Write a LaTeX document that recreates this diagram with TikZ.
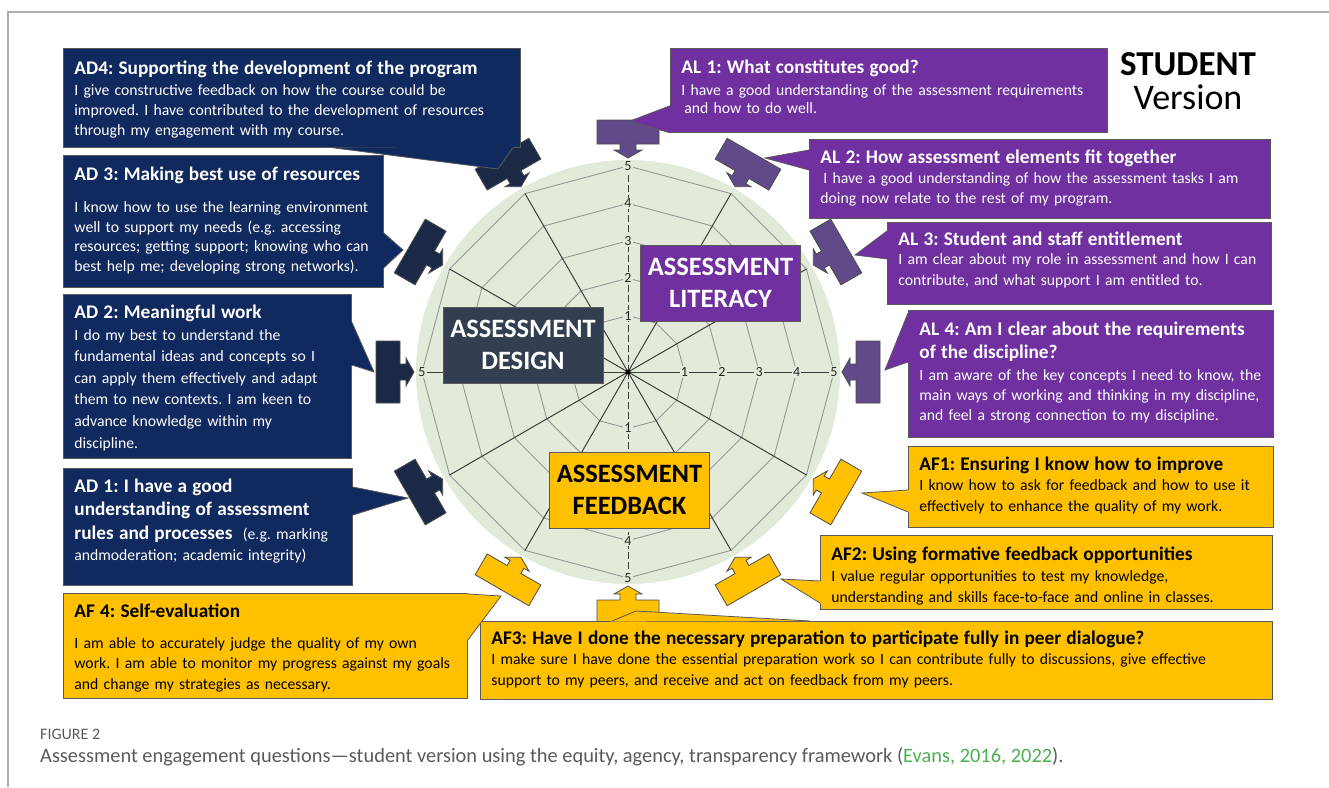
\documentclass[tikz,border=0pt]{standalone}
\usepackage{fontspec}
\setmainfont{Carlito}
\usetikzlibrary{calc}

\definecolor{adfill}{RGB}{16,41,95}
\definecolor{adptr}{RGB}{27,41,70}
\definecolor{alfill}{RGB}{112,48,160}
\definecolor{alptr}{RGB}{96,74,138}
\definecolor{affill}{RGB}{255,192,0}
\definecolor{desfill}{RGB}{51,63,80}
\definecolor{radarbg}{RGB}{226,235,217}
\definecolor{ringgrey}{RGB}{150,150,150}
\definecolor{spokegrey}{RGB}{60,60,60}
\definecolor{framegrey}{RGB}{175,175,175}
\definecolor{capgrey}{RGB}{90,90,90}
\definecolor{citegreen}{RGB}{76,175,80}

% bold heading line inside a question box
\newcommand\boxhead[1]{{\fontsize{19.3}{23.5}\selectfont\bfseries #1\par}}
% callout tail: colour, base point, tip, base point
\newcommand\calltail[4]{%
  \fill[#1] ($#2!-1.5pt!#3$) -- #3 -- ($#4!-1.5pt!#3$) -- cycle;
  \draw[rim] #2 -- #3 -- #4;}

\begin{document}
\frenchspacing
\begin{tikzpicture}[x=1pt, y=-1pt,
    rim/.style={draw=black!65, line width=0.8pt},
    cbox/.style={rectangle, anchor=north west, rim, inner xsep=11pt, inner ysep=0pt,
      align=left, font=\fontsize{15.7}{20.5}\selectfont,
      execute at begin node={\frenchspacing\hyphenpenalty=10000\linepenalty=1000
        \rightskip=0pt plus 1fil minus 40pt\relax}},
    adbox/.style={cbox, fill=adfill, text=white},
    albox/.style={cbox, fill=alfill, text=white},
    afbox/.style={cbox, fill=affill, text=black},
    catbox/.style={rectangle, rim, minimum width=160pt, minimum height=76pt,
      inner sep=0pt, align=center, font=\fontsize{26.5}{32}\selectfont\bfseries},
    webring/.style={draw=ringgrey, line width=0.9pt},
    spoke/.style={draw=spokegrey, line width=1pt},
    ticklab/.style={fill=radarbg, inner sep=1.2pt, text=black!85,
      font=\fontsize{14}{14}\selectfont},
    ptr/.pic={\filldraw (0,0) -- (8,14) -- (8,8) -- (14,8) -- (14,31) -- (38,31)
      -- (38,-31) -- (14,-31) -- (14,-8) -- (8,-8) -- (8,-14) -- cycle;}
]
\useasboundingbox (0,0) rectangle (1329,787);
\draw[framegrey, line width=1.3pt] (8,787) -- (8,12) -- (1329,12);

% radar web
\fill[radarbg] (628,372) circle[radius=212pt];
\begin{scope}[shift={(628,372)}]
  \foreach \k in {1,...,5}{
    \pgfmathsetmacro\rad{19+37.4*\k}
    \draw[webring] (0:\rad pt) \foreach \a in {30,60,...,330}{ -- (\a:\rad pt)} -- cycle;
  }
  \foreach \a in {30,60,120,150,210,240,300,330}
    \draw[spoke] (0,0) -- (\a:206pt);
  \draw[spoke] (0,0) -- (0:206pt) (0,0) -- (180:206pt);
  \draw[spoke, dash pattern=on 7pt off 3pt] (0,0) -- (90:206pt) (0,0) -- (270:206pt);
  \foreach \k in {1,...,5}{
    \pgfmathsetmacro\rad{19+37.4*\k}
    \node[ticklab] (e\k) at (0:\rad pt) {\k};
    \node[ticklab] (n\k) at (90:\rad pt) {\k};
  }
  \foreach \k in {1,4,5}{
    \pgfmathsetmacro\rad{19+37.4*\k}
    \node[ticklab] (s\k) at (270:\rad pt) {\k};
  }
  \node[ticklab] (w5) at (180:206pt) {5};
  \fill (0,0) circle[radius=2.5pt];
\end{scope}

% arrow markers round the web
\foreach \a/\col in {90/alptr, 60/alptr, 30/alptr, 0/alptr, -30/affill, -60/affill,
    -90/affill, -120/affill, -150/adptr, 180/adptr, 150/adptr, 120/adptr}
  \pic[fill=\col, draw=black!70, line width=0.8pt, rotate=\a] at ($(628,372)+(\a:214pt)$) {ptr};

\coordinate (tAD4) at (498,169);
\coordinate (tAD3) at (403,250);
\coordinate (tAD2) at (374,372);
\coordinate (tAD1) at (408,498);
\coordinate (tAF4) at (501,596);
\coordinate (tAF3) at (636,611);
\coordinate (tAF2) at (781,579);
\coordinate (tAF1) at (862,493);
\coordinate (tAL4) at (885,370);
\coordinate (tAL3) at (855,255);
\coordinate (tAL2) at (765,158);
\coordinate (tAL1) at (630,121);

% design questions
\node[adbox, text width=435pt, text height=26pt, text depth=73pt, font=\fontsize{15.7}{20}\selectfont] (ad4) at (63,48)
  {\boxhead{AD4: Supporting the development of the program}\vspace{1pt}I give constructive feedback on how the course could be\\
   improved. I have contributed to the development of resources\\ through my engagement with my course.};
\node[adbox, text width=298pt, text height=25pt, text depth=107pt, font=\fontsize{15.7}{19.7}\selectfont] (ad3) at (63,155)
  {\boxhead{AD 3: Making best use of resources}\vspace{12.3pt}I know how to use the learning environment\\
   well to support my needs (e.g. accessing\\ resources; getting support; knowing who can\\ best help me; developing strong networks).};
\node[adbox, text width=266pt, text height=24pt, text depth=140pt, font=\fontsize{15.7}{21.6}\selectfont] (ad2) at (63,294)
  {\boxhead{AD 2: Meaningful work}I do my best to understand the\\ fundamental ideas and concepts so I\\
   can apply them effectively and adapt\\ them to new contexts. I am keen to\\ advance knowledge within my\\ discipline.};
\node[adbox, text width=267pt, text height=24pt, text depth=93pt, font=\fontsize{15.7}{21}\selectfont] (ad1) at (63,468)
  {{\fontsize{19.3}{23.5}\selectfont\bfseries AD 1: I have a good\\ understanding of assessment\\
   rules and processes\ \ {\fontsize{15.7}{21}\selectfont\mdseries(e.g. marking}\par}andmoderation; academic integrity)};

% feedback questions
\node[afbox, text width=382pt, text height=24pt, text depth=81pt] (af4) at (63,593)
  {\boxhead{AF 4: Self-evaluation}\vspace{10.5pt}I am able to accurately judge the quality of my own\\
   work. I am able to monitor my progress against my goals\\ and change my strategies as necessary.};
\node[afbox, text width=770pt, text height=23pt, text depth=55pt] (af3) at (480,621)
  {\boxhead{AF3: Have I done the necessary preparation to participate fully in peer dialogue?}I make sure I have done the essential preparation work so I can contribute fully to discussions, give effective\\
   support to my peers, and receive and act on feedback from my peers.};
\node[afbox, text width=430pt, text height=25pt, text depth=49pt, font=\fontsize{15.7}{21}\selectfont] (af2) at (820,535)
  {\boxhead{AF2: Using formative feedback opportunities}I value regular opportunities to test my knowledge,\\
   understanding and skills face-to-face and online in classes.};
\node[afbox, text width=343pt, text height=24pt, text depth=57pt, font=\fontsize{15.7}{21}\selectfont] (af1) at (908,446)
  {\boxhead{AF1: Ensuring I know how to improve}\vspace{-1pt}I know how to ask for feedback and how to use it\\
   effectively to enhance the quality of my work.};

% literacy questions
\node[albox, text width=343pt, text height=25pt, text depth=102pt, font=\fontsize{15.7}{20}\selectfont] (al4) at (908,310)
  {{\fontsize{19.3}{23}\selectfont\bfseries AL 4: Am I clear about the requirements\\ of the discipline?\par}\vspace{2pt}I am aware of the key concepts I need to know, the\\
   main ways of working and thinking in my discipline,\\ and feel a strong connection to my discipline.};
\node[albox, text width=362pt, text height=23pt, text depth=59pt, font=\fontsize{15.7}{21}\selectfont] (al3) at (887,222)
  {\boxhead{AL 3: Student and staff entitlement}\vspace{-2pt}I am clear about my role in assessment and how I can\\
   contribute, and what support I am entitled to.};
\node[albox, text width=439pt, text height=24pt, text depth=55pt, font=\fontsize{15.7}{20}\selectfont] (al2) at (809,139)
  {\boxhead{AL 2: How assessment elements fit together}\hspace*{3pt}I have a good understanding of how the assessment tasks I am\\
   doing now relate to the rest of my program.};
\node[albox, text width=415pt, text height=25pt, text depth=59pt, font=\fontsize{15.7}{18.5}\selectfont] (al1) at (670,48)
  {\boxhead{AL 1: What constitutes good?}\vspace{3.5pt}I have a good understanding of the assessment requirements\\
   \hspace*{3pt}and how to do well.};

% tails from the boxes to the markers
\calltail{adfill}{([xshift=270pt]ad4.south west)}{(tAD4)}{([xshift=-8pt]ad4.south east)}
\calltail{adfill}{([yshift=-78pt]ad3.north east)}{(tAD3)}{([yshift=20pt]ad3.south east)}
\calltail{adfill}{([yshift=-28pt]ad2.north east)}{(tAD2)}{([yshift=-71pt]ad2.north east)}
\calltail{adfill}{([yshift=-19pt]ad1.north east)}{(tAD1)}{([yshift=-47pt]ad1.north east)}
\calltail{affill}{([yshift=-1pt]af4.north east)}{(tAF4)}{([yshift=-47pt]af4.north east)}
\calltail{affill}{([xshift=132pt]af3.north west)}{(tAF3)}{([xshift=330pt]af3.north west)}
\calltail{affill}{([yshift=-46pt]af2.north west)}{(tAF2)}{([yshift=-68pt]af2.north west)}
\calltail{affill}{([yshift=-44pt]af1.north west)}{(tAF1)}{([yshift=-66pt]af1.north west)}
\calltail{alfill}{([yshift=-3pt]al4.north west)}{(tAL4)}{([yshift=-52pt]al4.north west)}
\calltail{alfill}{([yshift=-9pt]al3.north west)}{(tAL3)}{([yshift=-37pt]al3.north west)}
\calltail{alfill}{([yshift=-11pt]al2.north west)}{(tAL2)}{([yshift=-31pt]al2.north west)}
\calltail{alfill}{([yshift=27pt]al1.south west)}{(tAL1)}{(al1.south west)}

% the three dimensions
\node[catbox, fill=alfill, text=white] (lit) at (720.5,283) {ASSESSMENT\\LITERACY};
\node[catbox, fill=desfill, text=white] (des) at (523,345) {ASSESSMENT\\DESIGN};
\node[catbox, fill=affill, text=black] (fee) at (629.5,490) {ASSESSMENT\\FEEDBACK};

\node[anchor=base, font=\fontsize{35}{35}\selectfont\bfseries] (stu) at (1188,75) {STUDENT};
\node[anchor=base, font=\fontsize{36}{36}\selectfont] (ver) at (1188,109) {Version};

% caption
\node[anchor=base west, inner sep=0pt, text=capgrey, font=\fontsize{16}{16}\selectfont] (fig) at (40,739) {FIGURE 2};
\node[anchor=base west, inner sep=0pt, text=capgrey, font=\fontsize{20.4}{20.4}\selectfont] (cap) at (40,762)
  {Assessment engagement questions—student version using the equity, agency, transparency framework (\textcolor{citegreen}{Evans, 2016, 2022}).};
\end{tikzpicture}
\end{document}
